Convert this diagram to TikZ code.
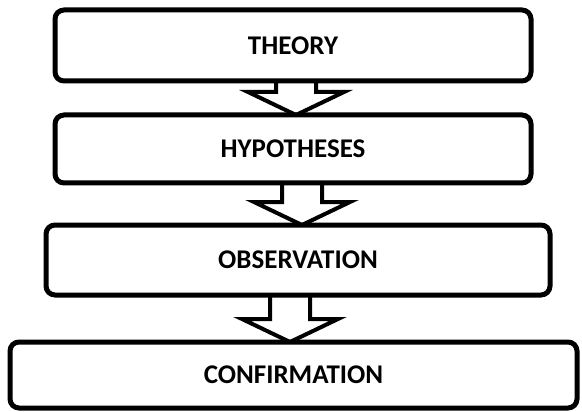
\documentclass[tikz,border=0pt]{standalone}
\usepackage{fontspec}
\setmainfont{Carlito}
\usetikzlibrary{calc}
\tikzset{
  box/.style={draw=black, line width=5pt, rounded corners=9pt, fill=white,
    outer sep=0pt, inner sep=0pt, font=\bfseries\fontsize{27}{31}\selectfont},
  blockarrow/.style={draw=black, line width=4pt, line join=miter}
}
\newcommand{\blockarr}[3]{%
  \draw[blockarrow] let \p1=(#1.south), \p2=(#2.north) in
    (#3-20,\y1) -- (#3-20,\y2+23) -- (#3-48,\y2+23) -- (#3,\y2)
    -- (#3+48,\y2+23) -- (#3+20,\y2+23) -- (#3+20,\y1);}
\begin{document}
\begin{tikzpicture}[x=1pt,y=-1pt]
\useasboundingbox (0,0) rectangle (582,412);
\node[box, minimum width=476pt, minimum height=71pt] (b1) at (293,45.5) {THEORY};
\node[box, minimum width=476pt, minimum height=68pt] (b2) at (293,149) {HYPOTHESES};
\node[box, minimum width=504pt, minimum height=70pt] (b3) at (298,260) {OBSERVATION};
\node[box, minimum width=567pt, minimum height=66pt] (b4) at (293.5,375) {CONFIRMATION};
\blockarr{b1}{b2}{296}
\blockarr{b2}{b3}{302}
\blockarr{b3}{b4}{290}
\end{tikzpicture}
\end{document}
